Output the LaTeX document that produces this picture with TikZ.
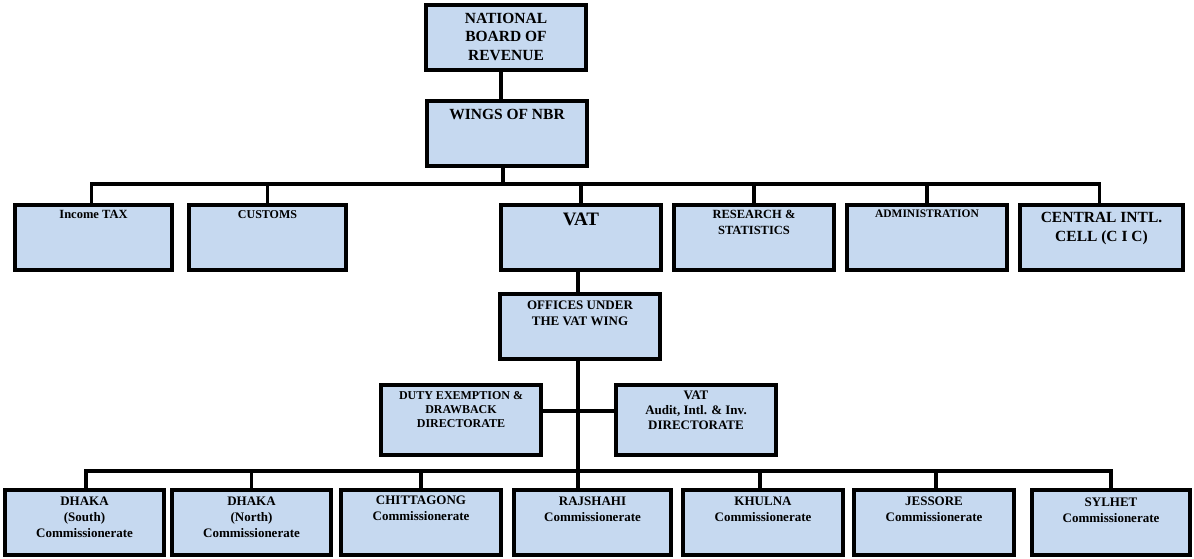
\documentclass[tikz,border=0pt]{standalone}
\usepackage{fontspec}
\setmainfont{Liberation Serif}
\definecolor{boxblue}{HTML}{C6D9F0}
\begin{document}
\begin{tikzpicture}[x=1pt,y=-1pt,
  box/.style={draw=black, line width=4pt, fill=boxblue, inner sep=0pt, minimum height=65pt, minimum width=160pt},
  conn/.style={draw=black, line width=3.2pt, line join=miter},
  lbl/.style={anchor=north, inner sep=0pt, align=center},
  fs/.style 2 args={font=\fontsize{#1}{#2}\selectfont\bfseries}
]
\useasboundingbox (0,0) rectangle (1194,559);
\coordinate (topbus) at (0,184);
\coordinate (botbus) at (0,471);

% boxes
\node[box] (nbr) at (506,37.5) {};
\node[box] (wings) at (507,133.5) {};
\node[box, minimum width=157pt] (inc) at (93.5,237.5) {};
\node[box, minimum width=157pt] (cus) at (267.5,237.5) {};
\node[box] (vat) at (581,237.5) {};
\node[box] (res) at (754,237.5) {};
\node[box] (adm) at (927,237.5) {};
\node[box, minimum width=163pt] (cic) at (1101.5,237.5) {};
\node[box] (off) at (580,326.5) {};
\node[box, minimum height=70pt] (duty) at (461,420) {};
\node[box, minimum height=70pt] (aud) at (696,420) {};
\node[box, minimum width=159pt] (dks) at (84.5,522.5) {};
\node[box, minimum width=159pt] (dkn) at (251.5,522.5) {};
\node[box] (chi) at (421,522.5) {};
\node[box, minimum width=157pt] (raj) at (592.5,522.5) {};
\node[box] (khu) at (763,522.5) {};
\node[box] (jes) at (934,522.5) {};
\node[box, minimum width=158pt] (syl) at (1111,522.5) {};

% connectors between nodes
\draw[conn] ([xshift=-5pt]nbr.south) -- ([xshift=-5pt]nbr.south |- wings.north);
\draw[conn] ([xshift=-4pt]wings.south) -- ([xshift=-4pt]wings.south |- topbus);
\draw[conn] ([xshift=-2pt]inc.north) |- ([xshift=-2pt]cic.north |- topbus) -- ([xshift=-2pt]cic.north);
\draw[conn] (cus.north) -- (cus.north |- topbus);
\draw[conn] (vat.north) -- (vat.north |- topbus);
\draw[conn] (res.north) -- (res.north |- topbus);
\draw[conn] (adm.north) -- (adm.north |- topbus);
\draw[conn] ([xshift=-3pt]vat.south) -- ([xshift=-3pt]vat.south |- off.north);
\draw[conn] ([xshift=-2pt]off.south) -- ([xshift=-2pt]off.south |- raj.north);
\draw[conn] ([yshift=9pt]duty.east) -- ([yshift=9pt]aud.west);
\draw[conn] ([xshift=1.5pt]dks.north) |- (syl.north |- botbus) -- (syl.north);
\draw[conn] (dkn.north) -- (dkn.north |- botbus);
\draw[conn] (chi.north) -- (chi.north |- botbus);
\draw[conn] ([xshift=-3pt]khu.north) -- ([xshift=-3pt]khu.north |- botbus);
\draw[conn] ([xshift=2pt]jes.north) -- ([xshift=2pt]jes.north |- botbus);

% labels
\node[lbl, fs={15.5}{18.5}] (nbr-t) at ([yshift=-10pt]nbr.north) {NATIONAL\\BOARD OF\\REVENUE};
\node[lbl, fs={15.5}{18.5}] (wings-t) at ([yshift=-10pt]wings.north) {WINGS OF NBR};
\node[lbl, fs={12.5}{15}] (inc-t) at ([yshift=-7pt]inc.north) {Income TAX};
\node[lbl, fs={12}{14.5}] (cus-t) at ([yshift=-7pt]cus.north) {CUSTOMS};
\node[lbl, fs={19}{22}] (vat-t) at ([yshift=-10pt]vat.north) {VAT};
\node[lbl, fs={12.5}{15.5}] (res-t) at ([yshift=-7pt]res.north) {RESEARCH \&\\STATISTICS};
\node[lbl, fs={11.5}{14}] (adm-t) at ([yshift=-7pt]adm.north) {ADMINISTRATION};
\node[lbl, fs={15.5}{19}] (cic-t) at ([yshift=-9pt]cic.north) {CENTRAL INTL.\\CELL (C I C)};
\node[lbl, fs={13}{15.7}] (off-t) at ([yshift=-9pt]off.north) {OFFICES UNDER\\THE VAT WING};
\node[lbl, fs={12}{14.2}] (duty-t) at ([yshift=-8pt]duty.north) {DUTY EXEMPTION \&\\DRAWBACK\\DIRECTORATE};
\node[lbl, fs={13}{15}] (aud-t) at ([yshift=-8pt]aud.north) {VAT\\Audit, Intl. \& Inv.\\DIRECTORATE};
\node[lbl, fs={13}{15.7}] (dks-t) at ([yshift=-9pt]dks.north) {DHAKA\\(South)\\Commissionerate};
\node[lbl, fs={13}{15.7}] (dkn-t) at ([yshift=-9pt]dkn.north) {DHAKA\\(North)\\Commissionerate};
\node[lbl, fs={13}{15.7}] (chi-t) at ([yshift=-8pt]chi.north) {CHITTAGONG\\Commissionerate};
\node[lbl, fs={13}{15.7}] (raj-t) at ([yshift=-9pt]raj.north) {RAJSHAHI\\Commissionerate};
\node[lbl, fs={13}{15.7}] (khu-t) at ([yshift=-9pt]khu.north) {KHULNA\\Commissionerate};
\node[lbl, fs={13}{15.7}] (jes-t) at ([yshift=-9pt]jes.north) {JESSORE\\Commissionerate};
\node[lbl, fs={13}{15.7}] (syl-t) at ([yshift=-10pt]syl.north) {SYLHET\\Commissionerate};
\end{tikzpicture}
\end{document}
